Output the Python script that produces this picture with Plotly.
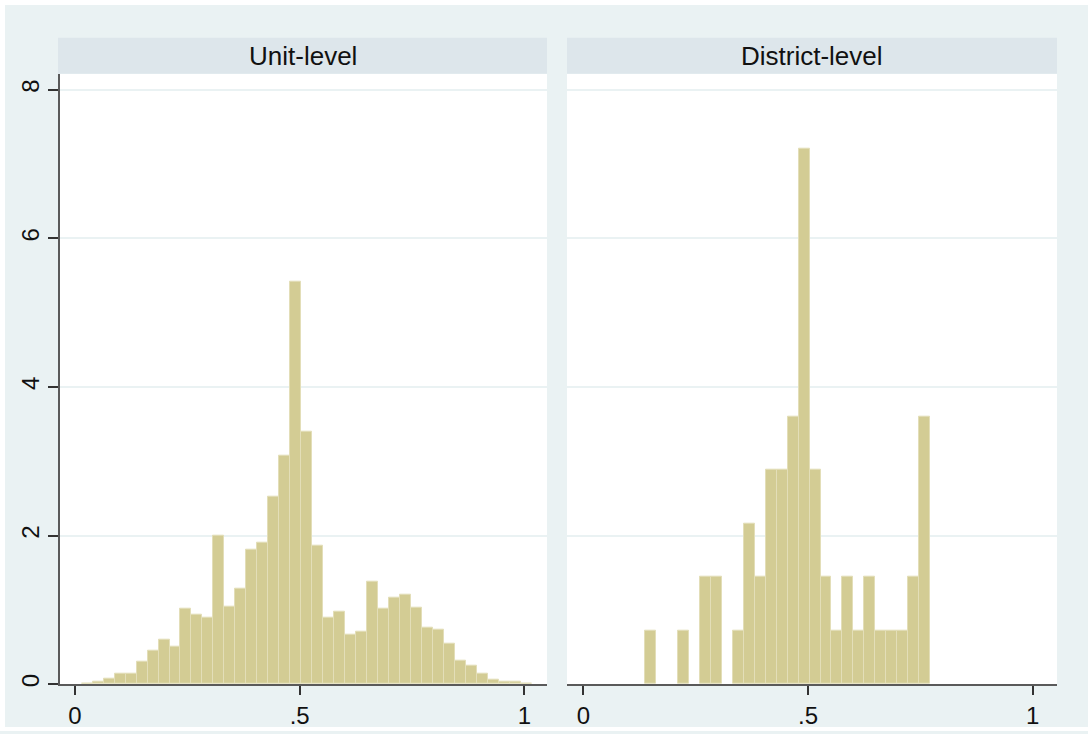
import plotly.graph_objects as go

W, H = 1088, 734

# ---- data (histogram densities, shared bins) ----
bin_start = 0.0149
bin_width = 0.02443
unit_density = [0.01, 0.03, 0.07, 0.14, 0.14, 0.30, 0.45, 0.60, 0.50, 1.02,
                0.93, 0.90, 2.00, 1.04, 1.29, 1.81, 1.90, 2.52, 3.07, 5.42,
                3.40, 1.87, 0.90, 0.97, 0.66, 0.70, 1.375, 1.02, 1.16, 1.20,
                1.03, 0.76, 0.73, 0.55, 0.32, 0.255, 0.14, 0.054, 0.031, 0.031,
                0.013]
district_density = [0, 0, 0, 0, 0, 0.72, 0, 0, 0.72, 0,
                    1.44, 1.44, 0, 0.72, 2.16, 1.44, 2.88, 2.88, 3.6, 7.2,
                    2.88, 1.44, 0.72, 1.44, 0.72, 1.44, 0.72, 0.72, 0.72, 1.44,
                    3.6, 0, 0, 0, 0, 0, 0, 0, 0, 0,
                    0]
panel_titles = ["Unit-level", "District-level"]
x_tickvals = [0, 0.5, 1]
x_ticktext = ["0", ".5", "1"]
y_tickvals = [0, 2, 4, 6, 8]
y_ticktext = ["0", "2", "4", "6", "8"]

BG = "#EAF2F3"
STRIP = "#DDE6EB"
BAR = "#D3CC94"
EDGE = "#E3DEB8"
AXIS = "#5a5a5a"
FONT = "Liberation Sans, Arial, Helvetica, sans-serif"

centers = [bin_start + (i + 0.5) * bin_width for i in range(len(unit_density))]

fig = go.Figure()
for i, dens in enumerate([unit_density, district_density]):
    sfx = "" if i == 0 else "2"
    fig.add_trace(go.Bar(
        x=centers, y=[v if v > 0 else None for v in dens], width=bin_width,
        xaxis="x" + sfx, yaxis="y" + sfx,
        marker=dict(color=BAR, line=dict(color=EDGE, width=1)),
        showlegend=False, hoverinfo="skip"))

# pixel geometry -> paper coords
def px(x):
    return x / W

def py(y):
    return 1 - y / H

plot_top, plot_bot = 74, 687
panels = [(60, 547, [-0.0334, 1.0505]), (567, 1057, [-0.0363, 1.0543])]

common_x = dict(
    tickvals=x_tickvals, ticktext=x_ticktext, ticks="outside", ticklen=9,
    tickwidth=1.5, tickcolor="#333", showline=True, linecolor=AXIS, linewidth=1.5,
    showgrid=False, zeroline=False, tickfont=dict(family=FONT, size=24, color="#111"),
    fixedrange=True)
common_y = dict(
    range=[0, 8.215], domain=[py(plot_bot), py(plot_top)],
    tickvals=y_tickvals, ticktext=y_ticktext, showgrid=True, gridcolor=BG,
    gridwidth=1.5, zeroline=False, fixedrange=True)

layout = dict(
    width=W, height=H, margin=dict(l=0, r=0, t=0, b=0),
    paper_bgcolor=BG, plot_bgcolor="white", barmode="overlay", bargap=0,
    showlegend=False,
    xaxis=dict(domain=[px(panels[0][0]), px(panels[0][1])], range=panels[0][2],
               anchor="y", **common_x),
    xaxis2=dict(domain=[px(panels[1][0]), px(panels[1][1])], range=panels[1][2],
                anchor="y2", **common_x),
    yaxis=dict(anchor="x", showline=True, linecolor=AXIS, linewidth=1.5,
               ticks="outside", ticklen=10, tickwidth=1.5, tickcolor="#333",
               tickangle=-90, tickfont=dict(family=FONT, size=24, color="#111"),
               **common_y),
    yaxis2=dict(anchor="x2", showline=False, ticks="", showticklabels=False,
                **common_y),
)

shapes = []
annotations = []
strip_edges = [(58, 547), (567, 1057)]
for (x0, x1), title in zip(strip_edges, panel_titles):
    shapes.append(dict(type="rect", xref="paper", yref="paper",
                       x0=px(x0), x1=px(x1), y0=py(74), y1=py(38),
                       fillcolor=STRIP, line=dict(width=0), layer="below"))
    annotations.append(dict(text=title, xref="paper", yref="paper",
                            x=px((x0 + x1) / 2), y=py(56), xanchor="center",
                            yanchor="middle", showarrow=False,
                            font=dict(family=FONT, size=26, color="#111")))
# thin white border around the outer frame
for (x0, x1, y0, y1) in [(0, W, 0, 5), (0, 5, 0, H), (0, W, H - 4, H)]:
    shapes.append(dict(type="rect", xref="paper", yref="paper",
                       x0=px(x0), x1=px(x1), y0=py(y1), y1=py(y0),
                       fillcolor="white", line=dict(width=0), layer="below"))

layout["shapes"] = shapes
layout["annotations"] = annotations
fig.update_layout(**layout)
fig.write_html("out.html")
